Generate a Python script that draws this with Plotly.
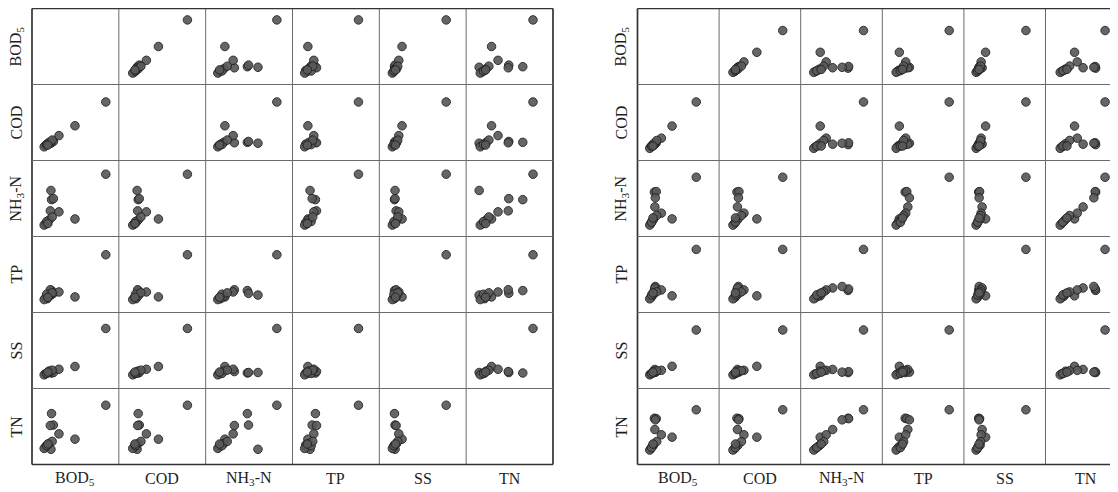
import plotly.graph_objects as go

# ---------------- data (relative concentrations, 14 samples) ----------------
variables = ["BOD<sub>5</sub>", "COD", "NH<sub>3</sub>-N", "TP", "SS", "TN"]

# left matrix
L_BOD = [100, 50, 11, 12, 15, 10, 24, 2, 5, 8, 0, 4, 13, 6]
L_COD = [100, 47, 8, 10, 12, 9, 25, 3, 6, 10, 0, 5, 15, 4]
L_NH3 = [100, 12, 68, 50, 52, 28, 26, 2, 5, 10, 0, 7, 16, 3]
L_TP = [100, 6, 10, 20, 14, 22, 17, 3, 2, 8, 0, 12, 15, 5]
L_SS = [100, 18, 5, 4, 5, 7, 12, 2, 4, 8, 0, 3, 10, 6]
L_TN = [100, 23, 0, 81, 55, 54, 35, 5, 10, 13, 2, 8, 18, 12]

# right matrix
R_BOD = [100, 48, 10, 14, 12, 11, 25, 2, 5, 8, 0, 4, 15, 7]
R_COD = [100, 48, 8, 12, 11, 9, 22, 3, 6, 10, 0, 5, 17, 5]
R_NH3 = [100, 13, 69, 70, 57, 38, 25, 3, 8, 12, 0, 6, 20, 15]
R_TP = [100, 6, 17, 20, 25, 22, 18, 2, 5, 10, 0, 8, 14, 12]
R_SS = [100, 19, 5, 7, 6, 12, 10, 2, 4, 8, 0, 3, 9, 6]
R_TN = [100, 32, 79, 78, 75, 51, 38, 3, 8, 12, 0, 6, 21, 15]

left_data = [L_BOD, L_COD, L_NH3, L_TP, L_SS, L_TN]
right_data = [R_BOD, R_COD, R_NH3, R_TP, R_SS, R_TN]

# ---------------- layout geometry (page pixels) ----------------
PAGE_W, PAGE_H = 1118, 492
OFF = 8                      # default page body margin
W, H = PAGE_W - OFF, PAGE_H - OFF
ROW_TOP, ROW_H = 8.5, 76.0

matrices = [
    dict(data=left_data, x0=32.0, cw=86.83, label_x=16,
         xfrac=[(0.14, 0.85), (0.16, 0.79), (0.14, 0.82), (0.14, 0.76), (0.15, 0.77), (0.15, 0.77)],
         yfrac=[(0.15, 0.85), (0.18, 0.77), (0.15, 0.82), (0.17, 0.76), (0.18, 0.79), (0.20, 0.78)]),
    dict(data=right_data, x0=637.5, cw=81.6, label_x=621,
         xfrac=[(0.15, 0.72), (0.17, 0.78), (0.16, 0.77), (0.17, 0.82), (0.15, 0.76), (0.18, 0.73)],
         yfrac=[(0.16, 0.71), (0.16, 0.77), (0.15, 0.78), (0.18, 0.83), (0.18, 0.77), (0.19, 0.72)]),
]


def px(x):
    return (x - OFF) / W


def py(y):
    return 1 - (y - OFF) / H


def rng(vals, a, b):
    m, M = min(vals), max(vals)
    span = (M - m) / (b - a)
    lo = m - a * span
    return lo, lo + span


fig = go.Figure()
layout = {}
shapes = []
annotations = []
k = 0
n = len(variables)
font = dict(family="Liberation Serif, Times New Roman, serif", size=16, color="#1e1e1e")

for mat in matrices:
    data = mat["data"]
    x0, cw = mat["x0"], mat["cw"]
    for i in range(n):          # row -> y variable
        for j in range(n):      # col -> x variable
            if i == j:
                continue
            k += 1
            xa = "x" if k == 1 else f"x{k}"
            ya = "y" if k == 1 else f"y{k}"
            left = x0 + j * cw
            right = left + cw
            top = ROW_TOP + i * ROW_H
            bot = top + ROW_H
            xlo, xhi = rng(data[j], *mat["xfrac"][j])
            ylo, yhi = rng(data[i], *mat["yfrac"][i])
            if right > PAGE_W:  # panel cut by the picture edge
                vis = (PAGE_W - left) / cw
                xhi = xlo + (xhi - xlo) * vis
                right = PAGE_W
            layout["xaxis" if k == 1 else f"xaxis{k}"] = dict(
                domain=[px(left), px(right)], range=[xlo, xhi], visible=False,
                anchor=ya, fixedrange=True)
            layout["yaxis" if k == 1 else f"yaxis{k}"] = dict(
                domain=[py(bot), py(top)], range=[ylo, yhi], visible=False,
                anchor=xa, fixedrange=True)
            fig.add_trace(go.Scatter(
                x=data[j], y=data[i], mode="markers", xaxis=xa, yaxis=ya,
                marker=dict(size=8.5, color="#5a5a5a", opacity=0.92,
                            line=dict(color="#222222", width=1)),
                hoverinfo="skip", showlegend=False))

    # grid lines
    top_y = ROW_TOP
    bot_y = ROW_TOP + n * ROW_H
    for j in range(n + 1):
        xx = x0 + j * cw
        if xx > PAGE_W:
            continue
        outer = j in (0, n)
        shapes.append(dict(type="line", xref="paper", yref="paper",
                           x0=px(xx), x1=px(xx), y0=py(top_y), y1=py(bot_y),
                           line=dict(color="#333333" if outer else "#6a6a6a",
                                     width=1.7 if outer else 1)))
    right_edge = min(x0 + n * cw, PAGE_W)
    for i in range(n + 1):
        yy = ROW_TOP + i * ROW_H
        outer = i in (0, n)
        shapes.append(dict(type="line", xref="paper", yref="paper",
                           x0=px(x0), x1=px(right_edge), y0=py(yy), y1=py(yy),
                           line=dict(color="#333333" if outer else "#6a6a6a",
                                     width=1.7 if outer else 1)))

    # labels
    for i, name in enumerate(variables):
        annotations.append(dict(text=name, xref="paper", yref="paper",
                                x=px(mat["label_x"]), y=py(ROW_TOP + (i + 0.5) * ROW_H),
                                textangle=-90, showarrow=False, font=font,
                                xanchor="center", yanchor="middle"))
        annotations.append(dict(text=name, xref="paper", yref="paper",
                                x=px(x0 + (i + 0.5) * cw), y=py(478),
                                showarrow=False, font=font,
                                xanchor="center", yanchor="middle"))

fig.update_layout(
    width=W, height=H, margin=dict(l=0, r=0, t=0, b=0),
    paper_bgcolor="white", plot_bgcolor="white", showlegend=False,
    shapes=shapes, annotations=annotations, **layout)

fig.write_html("out.html", config={"displayModeBar": False})
